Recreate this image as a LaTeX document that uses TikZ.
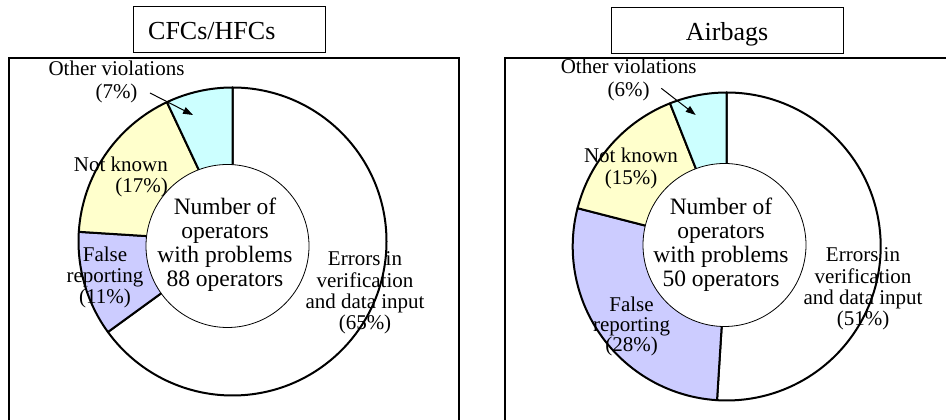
\documentclass[tikz,border=0pt]{standalone}
\usepackage{fontspec}
\setmainfont{Liberation Serif}
\usetikzlibrary{arrows.meta}
\definecolor{cyanl}{HTML}{CCFFFF}
\definecolor{yell}{HTML}{FFFFCC}
\definecolor{lavl}{HTML}{CCCCFF}
\newcommand\mlines[2]{\begin{tabular}[t]{@{}#1@{}}#2\end{tabular}}
\begin{document}
\begin{tikzpicture}[x=1pt,y=1pt,
  frame/.style={draw=black,line width=1.2pt},
  titlebox/.style={draw=black,line width=1.2pt,inner sep=0pt,anchor=south west},
  slice/.style={draw=black,line width=2pt,line join=round},
  hole/.style={circle,draw=black,fill=white,line width=0.8pt,minimum size=163pt,inner sep=0pt},
  lbl/.style={inner sep=0pt,font=\fontsize{21}{21}\selectfont},
  ctr/.style={inner sep=0pt,font=\fontsize{23.5}{24}\selectfont},
  ttl/.style={inner sep=0pt,font=\fontsize{26}{26}\selectfont},
  pointer/.style={line width=1pt,-{Triangle[length=10pt,width=7pt]}}]
\useasboundingbox (0,0) rectangle (946,420);
\clip (0,0) rectangle (946,420);

% ---------- left panel ----------
\draw[frame] (9,-20) rectangle (459,362);
\node[titlebox,minimum width=192pt,minimum height=46pt] (tboxL) at (133,367) {};
\node[ttl,anchor=base west] (titleL) at (148,380.7) {CFCs/HFCs};

\coordinate (cL) at (232.5,178.5);
\filldraw[slice,fill=white] (cL) -- ++(90:154) arc[start angle=90,end angle=-144,radius=154] -- cycle;
\filldraw[slice,fill=lavl] (cL) -- ++(-144:154) arc[start angle=-144,end angle=-183.6,radius=154] -- cycle;
\filldraw[slice,fill=yell] (cL) -- ++(-183.6:154) arc[start angle=-183.6,end angle=-244.8,radius=154] -- cycle;
\filldraw[slice,fill=cyanl] (cL) -- ++(-244.8:154) arc[start angle=-244.8,end angle=-270,radius=154] -- cycle;
\node[hole] (holeL) at (227.5,174) {};
\node[ctr,anchor=base] (numL) at (225,205) {\mlines{c}{Number of\\operators\\with problems\\88 operators}};

\node[lbl,anchor=base] (othL) at (116.5,344) {\mlines{c}{Other violations\\[2pt](7\%)}};
\node[lbl,anchor=base east] (nkL) at (168,248) {\mlines{r}{Not known\\(17\%)}};
\node[lbl,anchor=base] (frL) at (105,158) {\mlines{c}{False\\reporting\\(11\%)}};
\node[lbl,anchor=base] (erL) at (365,154) {\mlines{c}{Errors in\\[0.3pt]verification\\[0.3pt]and data input\\[0.3pt](65\%)}};
\coordinate (aL1) at (150,327);
\coordinate (aL2) at (193,305);
\draw[pointer] (aL1) -- (aL2);

% ---------- right panel ----------
\draw[frame] (505,-20) rectangle (960,362);
\node[titlebox,minimum width=232pt,minimum height=46pt] (tboxR) at (611,366) {};
\node[ttl,anchor=base] (titleR) at (727,379.3) {Airbags};

\coordinate (cR) at (726.7,173.5);
\filldraw[slice,fill=white] (cR) -- ++(90:154) arc[start angle=90,end angle=-93.6,radius=154] -- cycle;
\filldraw[slice,fill=lavl] (cR) -- ++(-93.6:154) arc[start angle=-93.6,end angle=-194.4,radius=154] -- cycle;
\filldraw[slice,fill=yell] (cR) -- ++(-194.4:154) arc[start angle=-194.4,end angle=-248.4,radius=154] -- cycle;
\filldraw[slice,fill=cyanl] (cR) -- ++(-248.4:154) arc[start angle=-248.4,end angle=-270,radius=154] -- cycle;
\node[hole] (holeR) at (724.5,175) {};
\node[ctr,anchor=base] (numR) at (721,205) {\mlines{c}{Number of\\operators\\with problems\\50 operators}};

\node[lbl,anchor=base] (othR) at (628.7,346) {\mlines{c}{Other violations\\[1.7pt](6\%)}};
\node[lbl,anchor=base] (nkR) at (631,257) {\mlines{c}{Not known\\[1pt](15\%)}};
\node[lbl,anchor=base] (frR) at (631.5,108) {\mlines{c}{False\\[-1pt]reporting\\[-1pt](28\%)}};
\node[lbl,anchor=base] (erR) at (863,158) {\mlines{c}{Errors in\\verification\\and data input\\(51\%)}};
\coordinate (aR1) at (661.3,331.7);
\coordinate (aR2) at (695.7,305);
\draw[pointer] (aR1) -- (aR2);
\end{tikzpicture}
\end{document}
